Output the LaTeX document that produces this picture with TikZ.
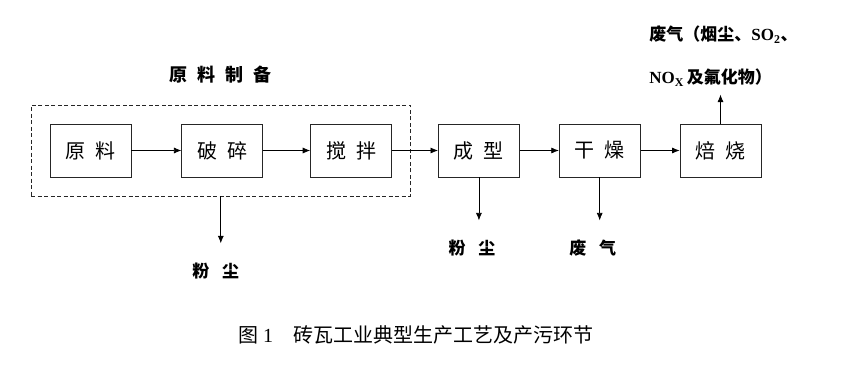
\documentclass[tikz,border=0pt]{standalone}
\usepackage{fontspec}
\setmainfont{Liberation Serif}
\newfontfamily\cjk{Noto Sans CJK SC}
\usetikzlibrary{arrows.meta, positioning, fit}

\begin{document}
\begin{tikzpicture}[
    x=1pt, y=-1pt,
    block/.style={rectangle, draw=black!85, line width=0.8pt,
    minimum width=81pt, minimum height=53pt, inner sep=0pt,
    font=\cjk\fontsize{20}{24}\selectfont},
    group/.style={rectangle, draw=black!85, line width=0.8pt,
    dash pattern=on 4pt off 2.5pt, inner sep=18.5pt},
    tag/.style={inner sep=0pt, font=\cjk\bfseries\fontsize{17}{20}\selectfont},
    arrow/.style={-{Latex[length=7.5pt,width=6pt]}, line width=0.7pt}
]
\useasboundingbox (0,0) rectangle (852,365);

% ---------------- RAW MATERIAL PREPARATION ----------------
\node[block] (raw) at (90.5,150.5) {原\hspace{0.5em}料};
\node[block, right=50pt of raw] (crush) {破\hspace{0.5em}碎};
\node[block, right=47pt of crush] (mix) {搅\hspace{0.5em}拌};

\node[group, fit=(raw)(crush)(mix)] (prep) {};
\node[tag, font=\cjk\bfseries\fontsize{18}{20}\selectfont, above=21pt of prep]
(preplabel) {原\hspace{0.55em}料\hspace{0.55em}制\hspace{0.55em}备};

\draw[arrow] (raw)--(crush);
\draw[arrow] (crush)--(mix);

% dust from preparation
\coordinate[below=47pt of prep.south] (preptip);
\draw[arrow] (prep)--(preptip);
\node[tag, below=19pt of preptip, xshift=-5pt] (dust1) {粉\hspace{0.75em}尘};

% ---------------- FORMING / DRYING / FIRING ----------------
\node[block, right=46pt of mix] (form) {成\hspace{0.5em}型};
\node[block, right=39pt of form] (dry) {干\hspace{0.5em}燥};
\node[block, right=39pt of dry] (fire) {焙\hspace{0.5em}烧};

\draw[arrow] (mix)--(form);
\draw[arrow] (form)--(dry);
\draw[arrow] (dry)--(fire);

% emissions
\coordinate[below=43pt of form.south] (formtip);
\draw[arrow] (form)--(formtip);
\node[tag, below=19pt of formtip, xshift=-7pt] (dust2) {粉\hspace{0.75em}尘};

\coordinate[below=43pt of dry.south] (drytip);
\draw[arrow] (dry)--(drytip);
\node[tag, below=19pt of drytip, xshift=-7pt] (gas1) {废\hspace{0.75em}气};

\coordinate[above=29pt of fire.north] (firetip);
\draw[arrow] (fire)--(firetip);
\node[tag, align=left, font=\cjk\bfseries\fontsize{17}{43}\selectfont,
above=8pt of firetip, xshift=3pt] (gas2)
{废气（烟尘、{\rmfamily SO\textsubscript{2}}、\\{\rmfamily NO\textsubscript{X}}\,及氟化物）};

% Caption
\node[anchor=west, inner sep=0pt, font=\cjk\fontsize{20}{24}\selectfont] (caption) at (238,335)
{图\hspace{5pt}{\rmfamily 1}\hspace{20pt}砖瓦工业典型生产工艺及产污环节};

\end{tikzpicture}
\end{document}
